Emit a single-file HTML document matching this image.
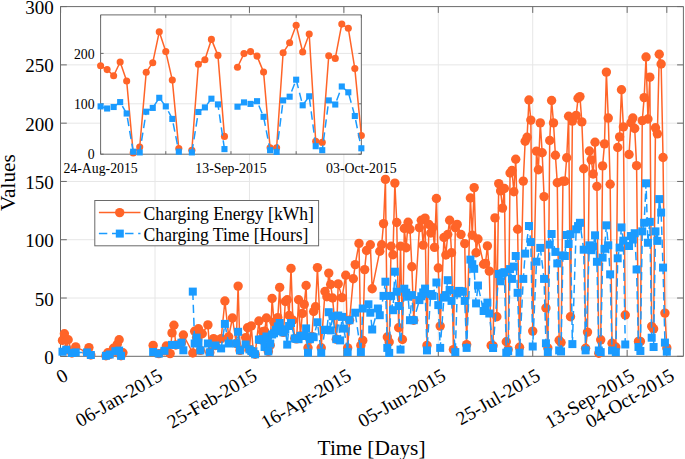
<!DOCTYPE html>
<html><head><meta charset="utf-8"><style>html,body{margin:0;padding:0;background:#fff;overflow:hidden}svg{display:block}text{font-family:"Liberation Serif",serif}</style></head><body>
<svg width="685" height="459" viewBox="0 0 685 459">
<rect width="685" height="459" fill="#fff"/>
<path d="M155.03 6.6V356.3M249.45 6.6V356.3M343.88 6.6V356.3M438.3 6.6V356.3M532.73 6.6V356.3M627.15 6.6V356.3M666.81 6.6V356.3M60.5 298.02H683.4M60.5 239.73H683.4M60.5 181.45H683.4M60.5 123.17H683.4M60.5 64.88H683.4" stroke="#E6E6E6" stroke-width="1" fill="none"/>
<path d="M60.5 6.6H683.4V356.3H60.5ZM60.6 356.3v-6.3M60.6 6.6v6.3M155.03 356.3v-6.3M155.03 6.6v6.3M249.45 356.3v-6.3M249.45 6.6v6.3M343.88 356.3v-6.3M343.88 6.6v6.3M438.3 356.3v-6.3M438.3 6.6v6.3M532.73 356.3v-6.3M532.73 6.6v6.3M627.15 356.3v-6.3M627.15 6.6v6.3M666.81 356.3v-6.3M666.81 6.6v6.3M60.5 356.3h6.3M683.4 356.3h-6.3M60.5 298.02h6.3M683.4 298.02h-6.3M60.5 239.73h6.3M683.4 239.73h-6.3M60.5 181.45h6.3M683.4 181.45h-6.3M60.5 123.17h6.3M683.4 123.17h-6.3M60.5 64.88h6.3M683.4 64.88h-6.3M60.5 6.6h6.3M683.4 6.6h-6.3" stroke="#6a6a6a" stroke-width="1" fill="none"/>
<g>
<polyline points="62.49,340.4 64.38,333.8 66.27,349.7 68.15,339.7 71.93,353 75.71,346.9 87.04,352.4 88.93,347.6 90.82,355" fill="none" stroke="#FF6428" stroke-width="1.5" stroke-linejoin="round"/>
<polyline points="105.92,355.8 107.81,352.8 109.7,354.5 113.48,348.2 115.37,351.2 117.25,344.3 119.14,339.7 121.03,355.8 122.92,352.8" fill="none" stroke="#FF6428" stroke-width="1.5" stroke-linejoin="round"/>
<polyline points="153.14,345.4 158.8,353.6 164.47,350.8 166.36,346 170.13,353.6 172.02,332.9 173.91,325.2 175.8,345 181.46,342.7 183.35,335 192.79,353 194.68,331.2 196.57,337.6 198.46,328.8 200.35,350.4 202.24,333.7 207.9,324.9 209.79,352.4 213.57,338.6 215.46,345.5 221.12,338.6 224.9,301 228.68,336.7 232.45,318 236.23,343.5 238.12,286.1 240.01,350.4 245.67,337.6 247.56,327.8 249.45,349.4 251.34,325.9 253.23,352.67 255.12,354.3 258.89,321 260.78,339.8 262.67,331.8 264.56,331.1 266.45,318 268.34,351.4 270.22,345.3 272.11,298.5 274,322.3 275.89,329.87 277.78,317.6 279.67,287.4 281.55,331.3 283.44,332.4 285.33,301.5 287.22,299.7 289.11,315.5 291,268.4 292.89,320.3 294.77,338.5 296.66,338.85 298.55,299.7 300.44,335.9 302.33,313.5 304.22,304.4 306.11,285.5 307.99,347.8 309.88,339.2 311.77,336.5 313.66,311.5 315.55,306.7 317.44,267.6 321.21,347.8 324.99,291.5 326.88,296.8 328.77,273.1 330.66,284.5 332.54,298 336.32,339.2 338.21,283.9 341.99,297.6 345.76,275.3 347.65,347.9 349.54,320.2 353.32,278.8 355.21,264.6 358.98,243.4 360.87,345.4 362.76,340.4 364.65,269.6 366.54,250.5 370.31,244.8 372.2,288.7 379.76,251.2 381.65,244.8 383.53,223.6 385.42,179.4 387.31,337 389.2,342 391.09,246.2 392.98,254.7 394.86,183.1 396.75,222.5 398.64,327.8 400.53,246.2 402.42,339.5 404.31,228.5 406.2,247.7 408.08,222.3 409.97,229.2 411.86,266.8 413.75,320.2 419.42,227.6 421.3,220.2 423.19,245.1 425.08,218.1 426.97,345.4 428.86,224.4 430.75,233 432.63,227.6 434.52,247.4 436.41,198.5 438.3,268 440.19,326.1 443.97,237.5 445.85,255 447.74,234.5 449.63,220.2 451.52,252.8 453.41,349.6 455.3,227.6 457.19,224.4 460.96,234.5 464.74,243.6 466.63,344.6 470.4,198 472.29,235.2 474.18,187.6 476.07,252.8 477.96,239 483.62,264.2 485.51,263.4 487.4,245.9 489.29,271.1 491.18,345.4 493.07,345.7 494.96,217.9 496.84,316.7 498.73,183.6 500.62,190.9 502.51,208.1 504.4,188.5 506.29,341.8 508.17,349.6 510.06,173 511.95,170.5 513.84,191.7 515.73,159.3 517.62,229.3 519.51,347.3 523.28,181.1 525.17,141.3 527.06,137.2 528.95,100 530.84,120.1 532.73,331.1 536.5,151.1 538.39,169.7 540.28,122.9 542.17,152.8 544.06,196.6 545.94,308 547.83,348 549.72,140.5 551.61,100.5 553.5,122.9 555.39,155.2 557.28,182.8 559.16,340.2 561.05,342.6 562.94,181.1 564.83,181.3 566.72,157.7 568.61,116.2 570.5,316.7 572.38,121.1 576.16,115.4 578.05,98.3 579.94,96.6 581.83,121.9 583.71,168.8 585.6,348.3 587.49,332.1 589.38,151.03 591.27,159.85 593.16,174.02 595.05,142.21 596.93,186.33 598.82,353.28 600.71,339.81 602.6,165.89 604.49,143.83 606.38,72.08 608.26,118.06 610.15,184.24 612.04,343.3" fill="none" stroke="#FF6428" stroke-width="1.5" stroke-linejoin="round"/>
<polyline points="615.82,347.01 617.71,147.55 619.6,136.87 621.48,89.73 623.37,126.88 625.26,314.97" fill="none" stroke="#FF6428" stroke-width="1.5" stroke-linejoin="round"/>
<polyline points="629.04,154.51 630.93,122.7 632.82,118.06 634.7,128.51 636.59,165.66 638.48,341.44 640.37,341.44 642.26,120.61 644.15,97.62 646.04,56.99 647.92,118.99 649.81,77.19 651.7,326.35 653.59,328.9 655.48,127.81 657.37,133.85 659.25,54.2 661.14,63.95 663.03,157.53 664.92,313.11 666.81,347.9" fill="none" stroke="#FF6428" stroke-width="1.5" stroke-linejoin="round"/>
<g fill="#FF6428">
<circle cx="62.49" cy="340.4" r="4.7"/><circle cx="64.38" cy="333.8" r="4.7"/><circle cx="66.27" cy="349.7" r="4.7"/><circle cx="68.15" cy="339.7" r="4.7"/><circle cx="71.93" cy="353" r="4.7"/><circle cx="75.71" cy="346.9" r="4.7"/><circle cx="87.04" cy="352.4" r="4.7"/><circle cx="88.93" cy="347.6" r="4.7"/><circle cx="90.82" cy="355" r="4.7"/>
<circle cx="105.92" cy="355.8" r="4.7"/><circle cx="107.81" cy="352.8" r="4.7"/><circle cx="109.7" cy="354.5" r="4.7"/><circle cx="113.48" cy="348.2" r="4.7"/><circle cx="115.37" cy="351.2" r="4.7"/><circle cx="117.25" cy="344.3" r="4.7"/><circle cx="119.14" cy="339.7" r="4.7"/><circle cx="121.03" cy="355.8" r="4.7"/><circle cx="122.92" cy="352.8" r="4.7"/>
<circle cx="153.14" cy="345.4" r="4.7"/><circle cx="158.8" cy="353.6" r="4.7"/><circle cx="164.47" cy="350.8" r="4.7"/><circle cx="166.36" cy="346" r="4.7"/><circle cx="170.13" cy="353.6" r="4.7"/><circle cx="172.02" cy="332.9" r="4.7"/><circle cx="173.91" cy="325.2" r="4.7"/><circle cx="175.8" cy="345" r="4.7"/><circle cx="181.46" cy="342.7" r="4.7"/><circle cx="183.35" cy="335" r="4.7"/><circle cx="192.79" cy="353" r="4.7"/><circle cx="194.68" cy="331.2" r="4.7"/><circle cx="196.57" cy="337.6" r="4.7"/><circle cx="198.46" cy="328.8" r="4.7"/><circle cx="200.35" cy="350.4" r="4.7"/><circle cx="202.24" cy="333.7" r="4.7"/><circle cx="207.9" cy="324.9" r="4.7"/><circle cx="209.79" cy="352.4" r="4.7"/><circle cx="213.57" cy="338.6" r="4.7"/><circle cx="215.46" cy="345.5" r="4.7"/><circle cx="221.12" cy="338.6" r="4.7"/><circle cx="224.9" cy="301" r="4.7"/><circle cx="228.68" cy="336.7" r="4.7"/><circle cx="232.45" cy="318" r="4.7"/><circle cx="236.23" cy="343.5" r="4.7"/><circle cx="238.12" cy="286.1" r="4.7"/><circle cx="240.01" cy="350.4" r="4.7"/><circle cx="245.67" cy="337.6" r="4.7"/><circle cx="247.56" cy="327.8" r="4.7"/><circle cx="249.45" cy="349.4" r="4.7"/><circle cx="251.34" cy="325.9" r="4.7"/><circle cx="253.23" cy="352.67" r="4.7"/><circle cx="255.12" cy="354.3" r="4.7"/><circle cx="258.89" cy="321" r="4.7"/><circle cx="260.78" cy="339.8" r="4.7"/><circle cx="262.67" cy="331.8" r="4.7"/><circle cx="264.56" cy="331.1" r="4.7"/><circle cx="266.45" cy="318" r="4.7"/><circle cx="268.34" cy="351.4" r="4.7"/><circle cx="270.22" cy="345.3" r="4.7"/><circle cx="272.11" cy="298.5" r="4.7"/><circle cx="274" cy="322.3" r="4.7"/><circle cx="275.89" cy="329.87" r="4.7"/><circle cx="277.78" cy="317.6" r="4.7"/><circle cx="279.67" cy="287.4" r="4.7"/><circle cx="281.55" cy="331.3" r="4.7"/><circle cx="283.44" cy="332.4" r="4.7"/><circle cx="285.33" cy="301.5" r="4.7"/><circle cx="287.22" cy="299.7" r="4.7"/><circle cx="289.11" cy="315.5" r="4.7"/><circle cx="291" cy="268.4" r="4.7"/><circle cx="292.89" cy="320.3" r="4.7"/><circle cx="294.77" cy="338.5" r="4.7"/><circle cx="296.66" cy="338.85" r="4.7"/><circle cx="298.55" cy="299.7" r="4.7"/><circle cx="300.44" cy="335.9" r="4.7"/><circle cx="302.33" cy="313.5" r="4.7"/><circle cx="304.22" cy="304.4" r="4.7"/><circle cx="306.11" cy="285.5" r="4.7"/><circle cx="307.99" cy="347.8" r="4.7"/><circle cx="309.88" cy="339.2" r="4.7"/><circle cx="311.77" cy="336.5" r="4.7"/><circle cx="313.66" cy="311.5" r="4.7"/><circle cx="315.55" cy="306.7" r="4.7"/><circle cx="317.44" cy="267.6" r="4.7"/><circle cx="321.21" cy="347.8" r="4.7"/><circle cx="324.99" cy="291.5" r="4.7"/><circle cx="326.88" cy="296.8" r="4.7"/><circle cx="328.77" cy="273.1" r="4.7"/><circle cx="330.66" cy="284.5" r="4.7"/><circle cx="332.54" cy="298" r="4.7"/><circle cx="336.32" cy="339.2" r="4.7"/><circle cx="338.21" cy="283.9" r="4.7"/><circle cx="341.99" cy="297.6" r="4.7"/><circle cx="345.76" cy="275.3" r="4.7"/><circle cx="347.65" cy="347.9" r="4.7"/><circle cx="349.54" cy="320.2" r="4.7"/><circle cx="353.32" cy="278.8" r="4.7"/><circle cx="355.21" cy="264.6" r="4.7"/><circle cx="358.98" cy="243.4" r="4.7"/><circle cx="360.87" cy="345.4" r="4.7"/><circle cx="362.76" cy="340.4" r="4.7"/><circle cx="364.65" cy="269.6" r="4.7"/><circle cx="366.54" cy="250.5" r="4.7"/><circle cx="370.31" cy="244.8" r="4.7"/><circle cx="372.2" cy="288.7" r="4.7"/><circle cx="379.76" cy="251.2" r="4.7"/><circle cx="381.65" cy="244.8" r="4.7"/><circle cx="383.53" cy="223.6" r="4.7"/><circle cx="385.42" cy="179.4" r="4.7"/><circle cx="387.31" cy="337" r="4.7"/><circle cx="389.2" cy="342" r="4.7"/><circle cx="391.09" cy="246.2" r="4.7"/><circle cx="392.98" cy="254.7" r="4.7"/><circle cx="394.86" cy="183.1" r="4.7"/><circle cx="396.75" cy="222.5" r="4.7"/><circle cx="398.64" cy="327.8" r="4.7"/><circle cx="400.53" cy="246.2" r="4.7"/><circle cx="402.42" cy="339.5" r="4.7"/><circle cx="404.31" cy="228.5" r="4.7"/><circle cx="406.2" cy="247.7" r="4.7"/><circle cx="408.08" cy="222.3" r="4.7"/><circle cx="409.97" cy="229.2" r="4.7"/><circle cx="411.86" cy="266.8" r="4.7"/><circle cx="413.75" cy="320.2" r="4.7"/><circle cx="419.42" cy="227.6" r="4.7"/><circle cx="421.3" cy="220.2" r="4.7"/><circle cx="423.19" cy="245.1" r="4.7"/><circle cx="425.08" cy="218.1" r="4.7"/><circle cx="426.97" cy="345.4" r="4.7"/><circle cx="428.86" cy="224.4" r="4.7"/><circle cx="430.75" cy="233" r="4.7"/><circle cx="432.63" cy="227.6" r="4.7"/><circle cx="434.52" cy="247.4" r="4.7"/><circle cx="436.41" cy="198.5" r="4.7"/><circle cx="438.3" cy="268" r="4.7"/><circle cx="440.19" cy="326.1" r="4.7"/><circle cx="443.97" cy="237.5" r="4.7"/><circle cx="445.85" cy="255" r="4.7"/><circle cx="447.74" cy="234.5" r="4.7"/><circle cx="449.63" cy="220.2" r="4.7"/><circle cx="451.52" cy="252.8" r="4.7"/><circle cx="453.41" cy="349.6" r="4.7"/><circle cx="455.3" cy="227.6" r="4.7"/><circle cx="457.19" cy="224.4" r="4.7"/><circle cx="460.96" cy="234.5" r="4.7"/><circle cx="464.74" cy="243.6" r="4.7"/><circle cx="466.63" cy="344.6" r="4.7"/><circle cx="470.4" cy="198" r="4.7"/><circle cx="472.29" cy="235.2" r="4.7"/><circle cx="474.18" cy="187.6" r="4.7"/><circle cx="476.07" cy="252.8" r="4.7"/><circle cx="477.96" cy="239" r="4.7"/><circle cx="483.62" cy="264.2" r="4.7"/><circle cx="485.51" cy="263.4" r="4.7"/><circle cx="487.4" cy="245.9" r="4.7"/><circle cx="489.29" cy="271.1" r="4.7"/><circle cx="491.18" cy="345.4" r="4.7"/><circle cx="493.07" cy="345.7" r="4.7"/><circle cx="494.96" cy="217.9" r="4.7"/><circle cx="496.84" cy="316.7" r="4.7"/><circle cx="498.73" cy="183.6" r="4.7"/><circle cx="500.62" cy="190.9" r="4.7"/><circle cx="502.51" cy="208.1" r="4.7"/><circle cx="504.4" cy="188.5" r="4.7"/><circle cx="506.29" cy="341.8" r="4.7"/><circle cx="508.17" cy="349.6" r="4.7"/><circle cx="510.06" cy="173" r="4.7"/><circle cx="511.95" cy="170.5" r="4.7"/><circle cx="513.84" cy="191.7" r="4.7"/><circle cx="515.73" cy="159.3" r="4.7"/><circle cx="517.62" cy="229.3" r="4.7"/><circle cx="519.51" cy="347.3" r="4.7"/><circle cx="523.28" cy="181.1" r="4.7"/><circle cx="525.17" cy="141.3" r="4.7"/><circle cx="527.06" cy="137.2" r="4.7"/><circle cx="528.95" cy="100" r="4.7"/><circle cx="530.84" cy="120.1" r="4.7"/><circle cx="532.73" cy="331.1" r="4.7"/><circle cx="536.5" cy="151.1" r="4.7"/><circle cx="538.39" cy="169.7" r="4.7"/><circle cx="540.28" cy="122.9" r="4.7"/><circle cx="542.17" cy="152.8" r="4.7"/><circle cx="544.06" cy="196.6" r="4.7"/><circle cx="545.94" cy="308" r="4.7"/><circle cx="547.83" cy="348" r="4.7"/><circle cx="549.72" cy="140.5" r="4.7"/><circle cx="551.61" cy="100.5" r="4.7"/><circle cx="553.5" cy="122.9" r="4.7"/><circle cx="555.39" cy="155.2" r="4.7"/><circle cx="557.28" cy="182.8" r="4.7"/><circle cx="559.16" cy="340.2" r="4.7"/><circle cx="561.05" cy="342.6" r="4.7"/><circle cx="562.94" cy="181.1" r="4.7"/><circle cx="564.83" cy="181.3" r="4.7"/><circle cx="566.72" cy="157.7" r="4.7"/><circle cx="568.61" cy="116.2" r="4.7"/><circle cx="570.5" cy="316.7" r="4.7"/><circle cx="572.38" cy="121.1" r="4.7"/><circle cx="576.16" cy="115.4" r="4.7"/><circle cx="578.05" cy="98.3" r="4.7"/><circle cx="579.94" cy="96.6" r="4.7"/><circle cx="581.83" cy="121.9" r="4.7"/><circle cx="583.71" cy="168.8" r="4.7"/><circle cx="585.6" cy="348.3" r="4.7"/><circle cx="587.49" cy="332.1" r="4.7"/><circle cx="589.38" cy="151.03" r="4.7"/><circle cx="591.27" cy="159.85" r="4.7"/><circle cx="593.16" cy="174.02" r="4.7"/><circle cx="595.05" cy="142.21" r="4.7"/><circle cx="596.93" cy="186.33" r="4.7"/><circle cx="598.82" cy="353.28" r="4.7"/><circle cx="600.71" cy="339.81" r="4.7"/><circle cx="602.6" cy="165.89" r="4.7"/><circle cx="604.49" cy="143.83" r="4.7"/><circle cx="606.38" cy="72.08" r="4.7"/><circle cx="608.26" cy="118.06" r="4.7"/><circle cx="610.15" cy="184.24" r="4.7"/><circle cx="612.04" cy="343.3" r="4.7"/>
<circle cx="615.82" cy="347.01" r="4.7"/><circle cx="617.71" cy="147.55" r="4.7"/><circle cx="619.6" cy="136.87" r="4.7"/><circle cx="621.48" cy="89.73" r="4.7"/><circle cx="623.37" cy="126.88" r="4.7"/><circle cx="625.26" cy="314.97" r="4.7"/>
<circle cx="629.04" cy="154.51" r="4.7"/><circle cx="630.93" cy="122.7" r="4.7"/><circle cx="632.82" cy="118.06" r="4.7"/><circle cx="634.7" cy="128.51" r="4.7"/><circle cx="636.59" cy="165.66" r="4.7"/><circle cx="638.48" cy="341.44" r="4.7"/><circle cx="640.37" cy="341.44" r="4.7"/><circle cx="642.26" cy="120.61" r="4.7"/><circle cx="644.15" cy="97.62" r="4.7"/><circle cx="646.04" cy="56.99" r="4.7"/><circle cx="647.92" cy="118.99" r="4.7"/><circle cx="649.81" cy="77.19" r="4.7"/><circle cx="651.7" cy="326.35" r="4.7"/><circle cx="653.59" cy="328.9" r="4.7"/><circle cx="655.48" cy="127.81" r="4.7"/><circle cx="657.37" cy="133.85" r="4.7"/><circle cx="659.25" cy="54.2" r="4.7"/><circle cx="661.14" cy="63.95" r="4.7"/><circle cx="663.03" cy="157.53" r="4.7"/><circle cx="664.92" cy="313.11" r="4.7"/><circle cx="666.81" cy="347.9" r="4.7"/>
</g>
<polyline points="62.49,351.7 66.27,349.7 71.93,353 75.71,352.4 87.04,352.4 90.82,355" fill="none" stroke="#1A9BFF" stroke-width="1.5" stroke-linejoin="round" stroke-dasharray="8.4 4.7"/>
<polyline points="105.92,355.8 109.7,354.5 115.37,351.2 119.14,350.6 121.03,355.8" fill="none" stroke="#1A9BFF" stroke-width="1.5" stroke-linejoin="round" stroke-dasharray="8.4 4.7"/>
<polyline points="153.14,352 158.8,353.6 164.47,350.8 172.02,344.9 175.8,345 181.46,342.7 183.35,350.3" fill="none" stroke="#1A9BFF" stroke-width="1.5" stroke-linejoin="round" stroke-dasharray="8.4 4.7"/>
<polyline points="192.79,291.6 194.68,343.5 196.57,337.6 198.46,342.7 200.35,350.4 207.9,343.5 209.79,352.4 215.46,345.5 221.12,348.4 224.9,323.9 228.68,343.5 236.23,343.5 238.12,331.8 240.01,350.4 245.67,344.5 249.45,349.4 251.34,351.03 253.23,352.67 255.12,354.3 258.89,339.6 260.78,339.8 262.67,339.2 264.56,347 266.45,336.5 268.34,351.4 270.22,343.5 272.11,334.5 274,333.3 275.89,329.87 277.78,326.43 279.67,323 281.55,331.3 283.44,332.4 285.33,329.3 287.22,344.6 289.11,326 291,323 294.77,338.5 296.66,338.85 298.55,339.2 300.44,335.9 302.33,335.9 304.22,335.9 306.11,328.4 307.99,352.7 309.88,339.2 311.77,336.5 313.66,337.2 317.44,322.3 321.21,352.7 324.99,330 326.88,329.7 328.77,312.2 330.66,330.4 332.54,316.2 336.32,339.2 338.21,315.5 340.1,340.4 341.99,316.9 343.88,328.6 347.65,352.1 349.54,320.2 355.21,312.7 360.87,352.1 362.76,308.5 368.43,304.3 370.31,312.7 372.2,329.5 377.87,308.5 379.76,315.2 383.53,295.9 385.42,281.7 387.31,347.9 389.2,352.9 391.09,295.9 392.98,310.2 394.86,271.7 396.75,291.7 398.64,306 400.53,349.6 404.31,288.7 406.2,292.7 408.08,296.7 409.97,320.2 411.86,295.1 413.75,320.2 419.42,300.1 421.3,296.27 423.19,292.43 425.08,288.6 426.97,350.4 430.75,294.07 432.63,295.9 436.41,282.5 438.3,305.1 440.19,347.9 443.97,297.6 445.85,295.1 447.74,280.2 449.63,290 451.52,300.9 455.3,352.1 457.19,293.4 459.07,290.9 460.96,291.3 462.85,291.7 464.74,300.9 466.63,347.9 470.4,259.6 472.29,264.2 474.18,268.8 476.07,303.4 477.96,285.5 483.62,311 485.51,306.8 487.4,302.6 489.29,313.5 493.07,348 498.73,274 500.62,281.3 502.51,273.2 504.4,272.18 506.29,352.7 508.17,351.2 510.06,269.1 511.95,278.9 513.84,266.6 515.73,256 517.62,292.8 519.51,352.7 523.28,278.9 525.17,253.6 528.95,226 530.84,242.1 532.73,346.5 536.5,261.7 540.28,247.9 544.06,278.9 545.94,343.3 547.83,352 549.72,244.6 551.61,234 555.39,251.9 557.28,263.4 559.16,350.4 561.05,351.5 562.94,255.4 564.83,256 566.72,235 568.61,244 570.5,234.2 572.38,344.1 576.16,229.3 578.05,226.05 579.94,222.8 583.71,249.7 585.6,350.4 589.38,245.31 591.27,250.18 593.16,246.7 595.05,235.32 596.93,261.79 598.82,350.49 600.71,352.12 602.6,257.61 604.49,248.79 606.38,225.34 608.26,245.31 610.15,274.33 612.04,350.49" fill="none" stroke="#1A9BFF" stroke-width="1.5" stroke-linejoin="round" stroke-dasharray="8.4 4.7"/>
<polyline points="615.82,352.12 617.71,258.31 619.6,247.63 621.48,227.43 623.37,240.66 625.26,344.46" fill="none" stroke="#1A9BFF" stroke-width="1.5" stroke-linejoin="round" stroke-dasharray="8.4 4.7"/>
<polyline points="629.04,246 630.93,236.02 632.82,239.5 634.7,233.23 636.59,269.46 638.48,347.01 640.37,350.96 642.26,231.37 644.15,222.78 646.04,183.31 647.92,242.75 649.81,221.85 651.7,337.72 653.59,347.01 655.48,231.37 657.37,240.89 659.25,199.1 661.14,212.57 663.03,267.6 664.92,342.6 666.81,351.7" fill="none" stroke="#1A9BFF" stroke-width="1.5" stroke-linejoin="round" stroke-dasharray="8.4 4.7"/>
<g fill="#1A9BFF">
<rect x="58.49" y="347.7" width="8" height="8"/><rect x="62.27" y="345.7" width="8" height="8"/><rect x="67.93" y="349" width="8" height="8"/><rect x="71.71" y="348.4" width="8" height="8"/><rect x="83.04" y="348.4" width="8" height="8"/><rect x="86.82" y="351" width="8" height="8"/>
<rect x="101.92" y="351.8" width="8" height="8"/><rect x="105.7" y="350.5" width="8" height="8"/><rect x="111.37" y="347.2" width="8" height="8"/><rect x="115.14" y="346.6" width="8" height="8"/><rect x="117.03" y="351.8" width="8" height="8"/>
<rect x="149.14" y="348" width="8" height="8"/><rect x="154.8" y="349.6" width="8" height="8"/><rect x="160.47" y="346.8" width="8" height="8"/><rect x="168.02" y="340.9" width="8" height="8"/><rect x="171.8" y="341" width="8" height="8"/><rect x="177.46" y="338.7" width="8" height="8"/><rect x="179.35" y="346.3" width="8" height="8"/>
<rect x="188.79" y="287.6" width="8" height="8"/><rect x="190.68" y="339.5" width="8" height="8"/><rect x="192.57" y="333.6" width="8" height="8"/><rect x="194.46" y="338.7" width="8" height="8"/><rect x="196.35" y="346.4" width="8" height="8"/><rect x="203.9" y="339.5" width="8" height="8"/><rect x="205.79" y="348.4" width="8" height="8"/><rect x="211.46" y="341.5" width="8" height="8"/><rect x="217.12" y="344.4" width="8" height="8"/><rect x="220.9" y="319.9" width="8" height="8"/><rect x="224.68" y="339.5" width="8" height="8"/><rect x="232.23" y="339.5" width="8" height="8"/><rect x="234.12" y="327.8" width="8" height="8"/><rect x="236.01" y="346.4" width="8" height="8"/><rect x="241.67" y="340.5" width="8" height="8"/><rect x="245.45" y="345.4" width="8" height="8"/><rect x="247.34" y="347.03" width="8" height="8"/><rect x="249.23" y="348.67" width="8" height="8"/><rect x="251.12" y="350.3" width="8" height="8"/><rect x="254.89" y="335.6" width="8" height="8"/><rect x="256.78" y="335.8" width="8" height="8"/><rect x="258.67" y="335.2" width="8" height="8"/><rect x="260.56" y="343" width="8" height="8"/><rect x="262.45" y="332.5" width="8" height="8"/><rect x="264.34" y="347.4" width="8" height="8"/><rect x="266.22" y="339.5" width="8" height="8"/><rect x="268.11" y="330.5" width="8" height="8"/><rect x="270" y="329.3" width="8" height="8"/><rect x="271.89" y="325.87" width="8" height="8"/><rect x="273.78" y="322.43" width="8" height="8"/><rect x="275.67" y="319" width="8" height="8"/><rect x="277.55" y="327.3" width="8" height="8"/><rect x="279.44" y="328.4" width="8" height="8"/><rect x="281.33" y="325.3" width="8" height="8"/><rect x="283.22" y="340.6" width="8" height="8"/><rect x="285.11" y="322" width="8" height="8"/><rect x="287" y="319" width="8" height="8"/><rect x="290.77" y="334.5" width="8" height="8"/><rect x="292.66" y="334.85" width="8" height="8"/><rect x="294.55" y="335.2" width="8" height="8"/><rect x="296.44" y="331.9" width="8" height="8"/><rect x="298.33" y="331.9" width="8" height="8"/><rect x="300.22" y="331.9" width="8" height="8"/><rect x="302.11" y="324.4" width="8" height="8"/><rect x="303.99" y="348.7" width="8" height="8"/><rect x="305.88" y="335.2" width="8" height="8"/><rect x="307.77" y="332.5" width="8" height="8"/><rect x="309.66" y="333.2" width="8" height="8"/><rect x="313.44" y="318.3" width="8" height="8"/><rect x="317.21" y="348.7" width="8" height="8"/><rect x="320.99" y="326" width="8" height="8"/><rect x="322.88" y="325.7" width="8" height="8"/><rect x="324.77" y="308.2" width="8" height="8"/><rect x="326.66" y="326.4" width="8" height="8"/><rect x="328.54" y="312.2" width="8" height="8"/><rect x="332.32" y="335.2" width="8" height="8"/><rect x="334.21" y="311.5" width="8" height="8"/><rect x="336.1" y="336.4" width="8" height="8"/><rect x="337.99" y="312.9" width="8" height="8"/><rect x="339.88" y="324.6" width="8" height="8"/><rect x="343.65" y="348.1" width="8" height="8"/><rect x="345.54" y="316.2" width="8" height="8"/><rect x="351.21" y="308.7" width="8" height="8"/><rect x="356.87" y="348.1" width="8" height="8"/><rect x="358.76" y="304.5" width="8" height="8"/><rect x="364.43" y="300.3" width="8" height="8"/><rect x="366.31" y="308.7" width="8" height="8"/><rect x="368.2" y="325.5" width="8" height="8"/><rect x="373.87" y="304.5" width="8" height="8"/><rect x="375.76" y="311.2" width="8" height="8"/><rect x="379.53" y="291.9" width="8" height="8"/><rect x="381.42" y="277.7" width="8" height="8"/><rect x="383.31" y="343.9" width="8" height="8"/><rect x="385.2" y="348.9" width="8" height="8"/><rect x="387.09" y="291.9" width="8" height="8"/><rect x="388.98" y="306.2" width="8" height="8"/><rect x="390.86" y="267.7" width="8" height="8"/><rect x="392.75" y="287.7" width="8" height="8"/><rect x="394.64" y="302" width="8" height="8"/><rect x="396.53" y="345.6" width="8" height="8"/><rect x="400.31" y="284.7" width="8" height="8"/><rect x="402.2" y="288.7" width="8" height="8"/><rect x="404.08" y="292.7" width="8" height="8"/><rect x="405.97" y="316.2" width="8" height="8"/><rect x="407.86" y="291.1" width="8" height="8"/><rect x="409.75" y="316.2" width="8" height="8"/><rect x="415.42" y="296.1" width="8" height="8"/><rect x="417.3" y="292.27" width="8" height="8"/><rect x="419.19" y="288.43" width="8" height="8"/><rect x="421.08" y="284.6" width="8" height="8"/><rect x="422.97" y="346.4" width="8" height="8"/><rect x="426.75" y="290.07" width="8" height="8"/><rect x="428.63" y="291.9" width="8" height="8"/><rect x="432.41" y="278.5" width="8" height="8"/><rect x="434.3" y="301.1" width="8" height="8"/><rect x="436.19" y="343.9" width="8" height="8"/><rect x="439.97" y="293.6" width="8" height="8"/><rect x="441.85" y="291.1" width="8" height="8"/><rect x="443.74" y="276.2" width="8" height="8"/><rect x="445.63" y="286" width="8" height="8"/><rect x="447.52" y="296.9" width="8" height="8"/><rect x="451.3" y="348.1" width="8" height="8"/><rect x="453.19" y="289.4" width="8" height="8"/><rect x="455.07" y="286.9" width="8" height="8"/><rect x="456.96" y="287.3" width="8" height="8"/><rect x="458.85" y="287.7" width="8" height="8"/><rect x="460.74" y="296.9" width="8" height="8"/><rect x="462.63" y="343.9" width="8" height="8"/><rect x="466.4" y="255.6" width="8" height="8"/><rect x="468.29" y="260.2" width="8" height="8"/><rect x="470.18" y="264.8" width="8" height="8"/><rect x="472.07" y="299.4" width="8" height="8"/><rect x="473.96" y="281.5" width="8" height="8"/><rect x="479.62" y="307" width="8" height="8"/><rect x="481.51" y="302.8" width="8" height="8"/><rect x="483.4" y="298.6" width="8" height="8"/><rect x="485.29" y="309.5" width="8" height="8"/><rect x="489.07" y="344" width="8" height="8"/><rect x="494.73" y="270" width="8" height="8"/><rect x="496.62" y="277.3" width="8" height="8"/><rect x="498.51" y="269.2" width="8" height="8"/><rect x="500.4" y="268.18" width="8" height="8"/><rect x="502.29" y="348.7" width="8" height="8"/><rect x="504.17" y="347.2" width="8" height="8"/><rect x="506.06" y="265.1" width="8" height="8"/><rect x="507.95" y="274.9" width="8" height="8"/><rect x="509.84" y="262.6" width="8" height="8"/><rect x="511.73" y="252" width="8" height="8"/><rect x="513.62" y="288.8" width="8" height="8"/><rect x="515.51" y="348.7" width="8" height="8"/><rect x="519.28" y="274.9" width="8" height="8"/><rect x="521.17" y="249.6" width="8" height="8"/><rect x="524.95" y="222" width="8" height="8"/><rect x="526.84" y="238.1" width="8" height="8"/><rect x="528.73" y="342.5" width="8" height="8"/><rect x="532.5" y="257.7" width="8" height="8"/><rect x="536.28" y="243.9" width="8" height="8"/><rect x="540.06" y="274.9" width="8" height="8"/><rect x="541.94" y="339.3" width="8" height="8"/><rect x="543.83" y="348" width="8" height="8"/><rect x="545.72" y="240.6" width="8" height="8"/><rect x="547.61" y="230" width="8" height="8"/><rect x="551.39" y="247.9" width="8" height="8"/><rect x="553.28" y="259.4" width="8" height="8"/><rect x="555.16" y="346.4" width="8" height="8"/><rect x="557.05" y="347.5" width="8" height="8"/><rect x="558.94" y="251.4" width="8" height="8"/><rect x="560.83" y="252" width="8" height="8"/><rect x="562.72" y="231" width="8" height="8"/><rect x="564.61" y="240" width="8" height="8"/><rect x="566.5" y="230.2" width="8" height="8"/><rect x="568.38" y="340.1" width="8" height="8"/><rect x="572.16" y="225.3" width="8" height="8"/><rect x="574.05" y="222.05" width="8" height="8"/><rect x="575.94" y="218.8" width="8" height="8"/><rect x="579.71" y="245.7" width="8" height="8"/><rect x="581.6" y="346.4" width="8" height="8"/><rect x="585.38" y="241.31" width="8" height="8"/><rect x="587.27" y="246.18" width="8" height="8"/><rect x="589.16" y="242.7" width="8" height="8"/><rect x="591.05" y="231.32" width="8" height="8"/><rect x="592.93" y="257.79" width="8" height="8"/><rect x="594.82" y="346.49" width="8" height="8"/><rect x="596.71" y="348.12" width="8" height="8"/><rect x="598.6" y="253.61" width="8" height="8"/><rect x="600.49" y="244.79" width="8" height="8"/><rect x="602.38" y="221.34" width="8" height="8"/><rect x="604.26" y="241.31" width="8" height="8"/><rect x="606.15" y="270.33" width="8" height="8"/><rect x="608.04" y="346.49" width="8" height="8"/>
<rect x="611.82" y="348.12" width="8" height="8"/><rect x="613.71" y="254.31" width="8" height="8"/><rect x="615.6" y="243.63" width="8" height="8"/><rect x="617.48" y="223.43" width="8" height="8"/><rect x="619.37" y="236.66" width="8" height="8"/><rect x="621.26" y="340.46" width="8" height="8"/>
<rect x="625.04" y="242" width="8" height="8"/><rect x="626.93" y="232.02" width="8" height="8"/><rect x="628.82" y="235.5" width="8" height="8"/><rect x="630.7" y="229.23" width="8" height="8"/><rect x="632.59" y="265.46" width="8" height="8"/><rect x="634.48" y="343.01" width="8" height="8"/><rect x="636.37" y="346.96" width="8" height="8"/><rect x="638.26" y="227.37" width="8" height="8"/><rect x="640.15" y="218.78" width="8" height="8"/><rect x="642.04" y="179.31" width="8" height="8"/><rect x="643.92" y="238.75" width="8" height="8"/><rect x="645.81" y="217.85" width="8" height="8"/><rect x="647.7" y="333.72" width="8" height="8"/><rect x="649.59" y="343.01" width="8" height="8"/><rect x="651.48" y="227.37" width="8" height="8"/><rect x="653.37" y="236.89" width="8" height="8"/><rect x="655.25" y="195.1" width="8" height="8"/><rect x="657.14" y="208.57" width="8" height="8"/><rect x="659.03" y="263.6" width="8" height="8"/><rect x="660.92" y="338.6" width="8" height="8"/><rect x="662.81" y="347.7" width="8" height="8"/>
</g></g>
<g font-family="Liberation Serif, serif" font-size="19" fill="#000">
<text x="53.8" y="363.9" text-anchor="end">0</text>
<text x="53.8" y="305.62" text-anchor="end">50</text>
<text x="53.8" y="247.33" text-anchor="end">100</text>
<text x="53.8" y="189.05" text-anchor="end">150</text>
<text x="53.8" y="130.77" text-anchor="end">200</text>
<text x="53.8" y="72.48" text-anchor="end">250</text>
<text x="53.8" y="14.2" text-anchor="end">300</text>
<text font-size="19.3" transform="translate(69.4,379.2) rotate(-30)" text-anchor="end">0</text>
<text font-size="19.3" transform="translate(163.83,379.2) rotate(-30)" text-anchor="end">06-Jan-2015</text>
<text font-size="19.3" transform="translate(258.25,379.2) rotate(-30)" text-anchor="end">25-Feb-2015</text>
<text font-size="19.3" transform="translate(352.68,379.2) rotate(-30)" text-anchor="end">16-Apr-2015</text>
<text font-size="19.3" transform="translate(447.1,379.2) rotate(-30)" text-anchor="end">05-Jun-2015</text>
<text font-size="19.3" transform="translate(541.52,379.2) rotate(-30)" text-anchor="end">25-Jul-2015</text>
<text font-size="19.3" transform="translate(635.95,379.2) rotate(-30)" text-anchor="end">13-Sep-2015</text>
<text font-size="19.3" transform="translate(675.61,379.2) rotate(-30)" text-anchor="end">04-Oct-2015</text>
</g>
<text font-family="Liberation Serif, serif" font-size="21.4" x="371.6" y="454.6" text-anchor="middle">Time [Days]</text>
<text font-family="Liberation Serif, serif" font-size="21.4" transform="translate(15.2,182.6) rotate(-90)" text-anchor="middle">Values</text>
<rect x="94.8" y="200.5" width="223.8" height="45.3" fill="#fff" stroke="#6a6a6a" stroke-width="1"/>
<path d="M98.9 212.6H140.5" stroke="#FF6428" stroke-width="1.5"/>
<circle cx="119.7" cy="212.6" r="4.7" fill="#FF6428"/>
<path d="M98.9 233.6H140.5" stroke="#1A9BFF" stroke-width="1.5" stroke-dasharray="8.4 4.7"/>
<rect x="115.8" y="229.6" width="8" height="8" fill="#1A9BFF"/>
<g font-family="Liberation Serif, serif" font-size="17.6" fill="#000">
<text transform="translate(143.6,219.7) scale(1,1.07)">Charging Energy [kWh]</text>
<text transform="translate(143.6,240.5) scale(1,1.07)">Charging Time [Hours]</text>
</g>
<rect x="100.6" y="14.9" width="260.75" height="139.3" fill="#fff"/>
<path d="M165.79 14.9V154.2M230.97 14.9V154.2M296.16 14.9V154.2M100.6 103.8H361.35M100.6 53.4H361.35" stroke="#E6E6E6" stroke-width="1" fill="none"/>
<path d="M100.6 14.9H361.35V154.2H100.6ZM100.6 154.2v-3M100.6 14.9v3M165.79 154.2v-3M165.79 14.9v3M230.97 154.2v-3M230.97 14.9v3M296.16 154.2v-3M296.16 14.9v3M361.35 154.2v-3M361.35 14.9v3M100.6 154.2h3M361.35 154.2h-3M100.6 103.8h3M361.35 103.8h-3M100.6 53.4h3M361.35 53.4h-3" stroke="#6a6a6a" stroke-width="1" fill="none"/>
<polyline points="100.6,65.8 107.12,69.6 113.64,75.7 120.16,62 126.67,81 133.19,152.9 139.71,147.1 146.23,72.2 152.75,62.7 159.27,31.8 165.79,51.6 172.31,80.1 178.82,148.6" fill="none" stroke="#FF6428" stroke-width="1.5" stroke-linejoin="round"/>
<polyline points="191.86,150.2 198.38,64.3 204.9,59.7 211.42,39.4 217.94,55.4 224.46,136.4" fill="none" stroke="#FF6428" stroke-width="1.5" stroke-linejoin="round"/>
<polyline points="237.49,67.3 244.01,53.6 250.53,51.6 257.05,56.1 263.57,72.1 270.09,147.8 276.61,147.8 283.12,52.7 289.64,42.8 296.16,25.3 302.68,52 309.2,34 315.72,141.3 322.24,142.4 328.76,55.8 335.27,58.4 341.79,24.1 348.31,28.3 354.83,68.6 361.35,135.6" fill="none" stroke="#FF6428" stroke-width="1.5" stroke-linejoin="round"/>
<g fill="#FF6428">
<circle cx="100.6" cy="65.8" r="3.55"/><circle cx="107.12" cy="69.6" r="3.55"/><circle cx="113.64" cy="75.7" r="3.55"/><circle cx="120.16" cy="62" r="3.55"/><circle cx="126.67" cy="81" r="3.55"/><circle cx="133.19" cy="152.9" r="3.55"/><circle cx="139.71" cy="147.1" r="3.55"/><circle cx="146.23" cy="72.2" r="3.55"/><circle cx="152.75" cy="62.7" r="3.55"/><circle cx="159.27" cy="31.8" r="3.55"/><circle cx="165.79" cy="51.6" r="3.55"/><circle cx="172.31" cy="80.1" r="3.55"/><circle cx="178.82" cy="148.6" r="3.55"/>
<circle cx="191.86" cy="150.2" r="3.55"/><circle cx="198.38" cy="64.3" r="3.55"/><circle cx="204.9" cy="59.7" r="3.55"/><circle cx="211.42" cy="39.4" r="3.55"/><circle cx="217.94" cy="55.4" r="3.55"/><circle cx="224.46" cy="136.4" r="3.55"/>
<circle cx="237.49" cy="67.3" r="3.55"/><circle cx="244.01" cy="53.6" r="3.55"/><circle cx="250.53" cy="51.6" r="3.55"/><circle cx="257.05" cy="56.1" r="3.55"/><circle cx="263.57" cy="72.1" r="3.55"/><circle cx="270.09" cy="147.8" r="3.55"/><circle cx="276.61" cy="147.8" r="3.55"/><circle cx="283.12" cy="52.7" r="3.55"/><circle cx="289.64" cy="42.8" r="3.55"/><circle cx="296.16" cy="25.3" r="3.55"/><circle cx="302.68" cy="52" r="3.55"/><circle cx="309.2" cy="34" r="3.55"/><circle cx="315.72" cy="141.3" r="3.55"/><circle cx="322.24" cy="142.4" r="3.55"/><circle cx="328.76" cy="55.8" r="3.55"/><circle cx="335.27" cy="58.4" r="3.55"/><circle cx="341.79" cy="24.1" r="3.55"/><circle cx="348.31" cy="28.3" r="3.55"/><circle cx="354.83" cy="68.6" r="3.55"/><circle cx="361.35" cy="135.6" r="3.55"/>
</g>
<polyline points="100.6,106.4 107.12,108.5 113.64,107 120.16,102.1 126.67,113.5 133.19,151.7 139.71,152.4 146.23,111.7 152.75,107.9 159.27,97.8 165.79,106.4 172.31,118.9 178.82,151.7" fill="none" stroke="#1A9BFF" stroke-width="1.5" stroke-linejoin="round" stroke-dasharray="8.4 4.7"/>
<polyline points="191.86,152.4 198.38,112 204.9,107.4 211.42,98.7 217.94,104.4 224.46,149.1" fill="none" stroke="#1A9BFF" stroke-width="1.5" stroke-linejoin="round" stroke-dasharray="8.4 4.7"/>
<polyline points="237.49,106.7 244.01,102.4 250.53,103.9 257.05,101.2 263.57,116.8 270.09,150.2 276.61,151.9 283.12,100.4 289.64,96.7 296.16,79.7 302.68,105.3 309.2,96.3 315.72,146.2 322.24,150.2 328.76,100.4 335.27,104.5 341.79,86.5 348.31,92.3 354.83,116 361.35,148.3" fill="none" stroke="#1A9BFF" stroke-width="1.5" stroke-linejoin="round" stroke-dasharray="8.4 4.7"/>
<g fill="#1A9BFF">
<rect x="97.55" y="103.35" width="6.1" height="6.1"/><rect x="104.07" y="105.45" width="6.1" height="6.1"/><rect x="110.59" y="103.95" width="6.1" height="6.1"/><rect x="117.11" y="99.05" width="6.1" height="6.1"/><rect x="123.62" y="110.45" width="6.1" height="6.1"/><rect x="130.14" y="148.65" width="6.1" height="6.1"/><rect x="136.66" y="149.35" width="6.1" height="6.1"/><rect x="143.18" y="108.65" width="6.1" height="6.1"/><rect x="149.7" y="104.85" width="6.1" height="6.1"/><rect x="156.22" y="94.75" width="6.1" height="6.1"/><rect x="162.74" y="103.35" width="6.1" height="6.1"/><rect x="169.26" y="115.85" width="6.1" height="6.1"/><rect x="175.77" y="148.65" width="6.1" height="6.1"/>
<rect x="188.81" y="149.35" width="6.1" height="6.1"/><rect x="195.33" y="108.95" width="6.1" height="6.1"/><rect x="201.85" y="104.35" width="6.1" height="6.1"/><rect x="208.37" y="95.65" width="6.1" height="6.1"/><rect x="214.89" y="101.35" width="6.1" height="6.1"/><rect x="221.41" y="146.05" width="6.1" height="6.1"/>
<rect x="234.44" y="103.65" width="6.1" height="6.1"/><rect x="240.96" y="99.35" width="6.1" height="6.1"/><rect x="247.48" y="100.85" width="6.1" height="6.1"/><rect x="254" y="98.15" width="6.1" height="6.1"/><rect x="260.52" y="113.75" width="6.1" height="6.1"/><rect x="267.04" y="147.15" width="6.1" height="6.1"/><rect x="273.56" y="148.85" width="6.1" height="6.1"/><rect x="280.07" y="97.35" width="6.1" height="6.1"/><rect x="286.59" y="93.65" width="6.1" height="6.1"/><rect x="293.11" y="76.65" width="6.1" height="6.1"/><rect x="299.63" y="102.25" width="6.1" height="6.1"/><rect x="306.15" y="93.25" width="6.1" height="6.1"/><rect x="312.67" y="143.15" width="6.1" height="6.1"/><rect x="319.19" y="147.15" width="6.1" height="6.1"/><rect x="325.71" y="97.35" width="6.1" height="6.1"/><rect x="332.22" y="101.45" width="6.1" height="6.1"/><rect x="338.74" y="83.45" width="6.1" height="6.1"/><rect x="345.26" y="89.25" width="6.1" height="6.1"/><rect x="351.78" y="112.95" width="6.1" height="6.1"/><rect x="358.3" y="145.25" width="6.1" height="6.1"/>
</g>
<g font-family="Liberation Serif, serif" font-size="13.8" fill="#000">
<text x="94.6" y="158.8" text-anchor="end">0</text>
<text x="94.6" y="109.4" text-anchor="end">100</text>
<text x="94.6" y="59" text-anchor="end">200</text>
<text x="100.6" y="173.3" text-anchor="middle">24-Aug-2015</text>
<text x="230.97" y="173.3" text-anchor="middle">13-Sep-2015</text>
<text x="361.35" y="173.3" text-anchor="middle">03-Oct-2015</text>
</g>
</svg>
</body></html>
